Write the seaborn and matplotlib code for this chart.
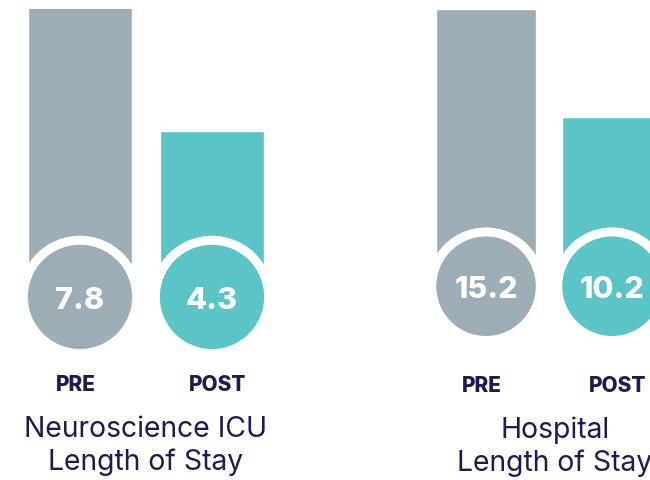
import matplotlib
matplotlib.use("Agg")
import matplotlib.pyplot as plt
import matplotlib.transforms as mtransforms
import pandas as pd
import seaborn as sns

# data
phases = ["PRE", "POST"]
icu_stay = [7.8, 4.3]
hospital_stay = [15.2, 10.2]
titles = ["Neuroscience ICU\nLength of Stay", "Hospital\nLength of Stay"]

gray = "#9DADB7"
teal = "#5AC4C6"
navy = "#1F1A4F"

sns.set_theme(style="white")
plt.rcParams['font.family'] = ['Inter', 'DejaVu Sans']

fig = plt.figure(figsize=(6.5, 4.81), dpi=100)

# axes box, y-limit, tick label pad, title x-position
panels = [
    ([0.0215, 0.2723, 0.4062, 0.7069], icu_stay, 6.71, 18, 0.5),
    ([0.6508, 0.2994, 0.3877, 0.6798], hospital_stay, 15.2, 28, 0.523),
]
bar_w = 0.79
ring = 9  # white ring around circles, px
label_shift = [-4, 6]  # px nudges for PRE / POST labels

for (box, vals, ytop, pad, tx), title in zip(panels, titles):
    ax = fig.add_axes(box)
    df = pd.DataFrame({"phase": phases, "days": vals})
    sns.barplot(data=df, x="phase", y="days", hue="phase",
                palette=[gray, teal], width=bar_w, saturation=1,
                legend=False, ax=ax)
    ax.set_xlim(-0.5, 1.5)
    ax.set_ylim(0, ytop)

    # circle radius in px and in data units
    bb = ax.get_window_extent()
    px_x = bb.width / 2.0
    px_y = bb.height / ytop
    r_px = bar_w / 2 * px_x
    r_data = r_px / px_y

    # bars start at circle centres
    for p in ax.patches:
        p.set_height(p.get_height() - r_data)
        p.set_y(r_data)

    trans = mtransforms.offset_copy(ax.transData, fig=fig, y=r_px, units='dots')
    size_pt = 2 * (r_px + ring / 2) * 72 / fig.dpi
    ax.scatter([0, 1], [0, 0], s=size_pt ** 2, c=[gray, teal],
               edgecolors='white', linewidths=ring * 72 / fig.dpi,
               transform=trans, clip_on=False, zorder=3)
    for i, v in enumerate(vals):
        ax.text(i, 0, f"{v}", transform=trans, ha='center', va='center_baseline',
                color='white', fontsize=22, fontweight='heavy', zorder=4)

    ax.tick_params(axis='x', length=0, pad=pad, labelsize=15, labelcolor=navy)
    for lab, dx in zip(ax.get_xticklabels(), label_shift):
        lab.set_fontweight('heavy')
        lab.set_transform(lab.get_transform() +
                          mtransforms.ScaledTranslation(dx / fig.dpi, 0, fig.dpi_scale_trans))
    ax.set_yticks([])
    ax.set_ylabel('')
    ax.set_xlabel(title, fontsize=20.4, color=navy, labelpad=15, linespacing=1.25)
    ax.xaxis.label.set_x(tx)
    sns.despine(ax=ax, left=True, bottom=True)

fig.savefig("out.png", dpi=100)
